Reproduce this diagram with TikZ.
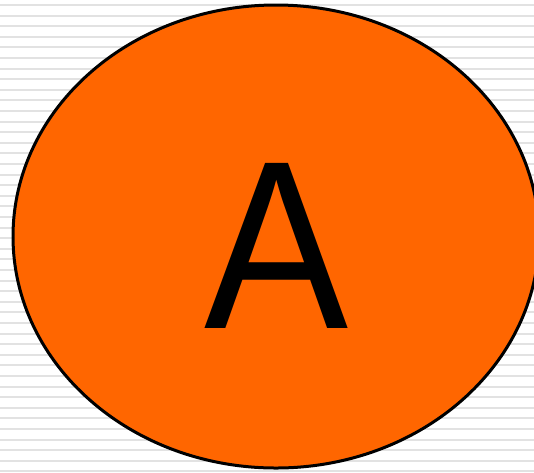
\documentclass[tikz,border=0pt]{standalone}
\usepackage{fontspec}
\setmainfont{Liberation Sans}
\usetikzlibrary{shapes.geometric,positioning}
\definecolor{blobcol}{RGB}{255,102,0}
\definecolor{stripecol}{RGB}{226,226,226}

\begin{document}
\begin{tikzpicture}[
  x=1pt, y=-1pt,
  blob/.style={ellipse, draw=black, line width=3pt, fill=blobcol,
               minimum width=526pt, minimum height=463pt, inner sep=0pt},
  letter/.style={font=\fontsize{240}{240}\selectfont, inner sep=0pt,
                 text=black, xscale=0.9, transform shape},
  stripe/.style={stripecol, line width=2pt}
]
  \useasboundingbox (0,0) rectangle (534,472);
  \fill[white] (0,0) rectangle (534,472);

  % ruled background
  \foreach \k in {0,...,44} {
    \draw[stripe] (0,{5+10.6*\k}) -- (534,{5+10.6*\k});
  }

  % the ellipse and its letter
  \node[blob] (ell) at (276,236.5) {};
  \node[letter] (lbl) at (277,246) {A};
\end{tikzpicture}
\end{document}
